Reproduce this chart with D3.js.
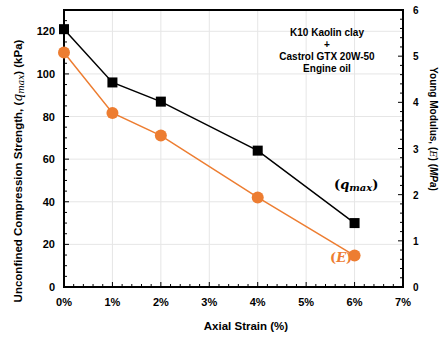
<!DOCTYPE html>
<html>
<head>
<meta charset="utf-8">
<script src="https://cdn.jsdelivr.net/npm/d3@7"></script>
<style>
  body { margin: 0; background: #fff; }
  svg text { font-family: "Liberation Sans", Arial, sans-serif; font-weight: bold; }
</style>
</head>
<body>
<div class="vis"></div>
<script>
(function() {
  'use strict';

  // axial strain (%)
  var strain = [0, 1, 2, 4, 6];
  // unconfined compression strength, kPa
  var qmax = [121, 96, 87, 64, 30];
  // Young modulus, MPa
  var youngE = [5.08, 3.77, 3.28, 1.94, 0.68];

  var xTicks = [0, 1, 2, 3, 4, 5, 6, 7];
  var yLeftTicks = [0, 20, 40, 60, 80, 100, 120];
  var yRightTicks = [0, 1, 2, 3, 4, 5, 6];
  var noteLines = ['K10 Kaolin clay', '+', 'Castrol GTX 20W-50', 'Engine oil'];

  var W = 444, H = 338,
    margin = {top: 10, right: 41, bottom: 51, left: 64},
    width = W - margin.left - margin.right,
    height = H - margin.top - margin.bottom;

  var serif = '"DejaVu Serif", serif';

  var svg = d3.select('.vis').append('svg')
      .attr('width', W)
      .attr('height', H);

  var g = svg.append('g')
      .attr('transform', 'translate(' + margin.left + ',' + margin.top + ')');

  var x = d3.scaleLinear().domain([0, 7]).range([0, width]);
  var yL = d3.scaleLinear().domain([0, 130]).range([height, 0]);
  var yR = d3.scaleLinear().domain([0, 6]).range([height, 0]);

  // grid
  g.append('g').selectAll('line').data(xTicks.slice(1, -1)).enter().append('line')
      .attr('x1', function(d) { return x(d); }).attr('x2', function(d) { return x(d); })
      .attr('y1', 0).attr('y2', height)
      .attr('stroke', '#e6e6e6').attr('stroke-width', 1);
  g.append('g').selectAll('line').data(yLeftTicks.slice(1)).enter().append('line')
      .attr('x1', 0).attr('x2', width)
      .attr('y1', function(d) { return yL(d); }).attr('y2', function(d) { return yL(d); })
      .attr('stroke', '#e6e6e6').attr('stroke-width', 1);

  // minor ticks
  var minorX = d3.range(0, 7.001, 0.2);
  var minorL = d3.range(0, 130.001, 5);
  var minorR = d3.range(0, 6.001, 0.2);
  var tk = g.append('g').attr('stroke', '#000').attr('stroke-width', 1);
  tk.selectAll('.mx').data(minorX).enter().append('line')
      .attr('x1', function(d) { return x(d); }).attr('x2', function(d) { return x(d); })
      .attr('y1', height).attr('y2', function(d) { return height - (Math.abs(d - Math.round(d)) < 1e-6 ? 5 : 3); });
  tk.selectAll('.ml').data(minorL).enter().append('line')
      .attr('y1', function(d) { return yL(d); }).attr('y2', function(d) { return yL(d); })
      .attr('x1', 0).attr('x2', function(d) { return d % 20 === 0 ? 5 : 3; });
  tk.selectAll('.mr').data(minorR).enter().append('line')
      .attr('y1', function(d) { return yR(d); }).attr('y2', function(d) { return yR(d); })
      .attr('x1', width).attr('x2', function(d) { return width - (Math.abs(d - Math.round(d)) < 1e-6 ? 5 : 3); });

  // frame
  g.append('rect').attr('width', width).attr('height', height)
      .attr('fill', 'none').attr('stroke', '#000').attr('stroke-width', 2);

  // tick labels
  g.append('g').selectAll('text').data(xTicks).enter().append('text')
      .attr('x', function(d) { return x(d); }).attr('y', height + 19)
      .attr('text-anchor', 'middle').attr('font-size', 11)
      .text(function(d) { return d + '%'; });
  g.append('g').selectAll('text').data(yLeftTicks).enter().append('text')
      .attr('x', -9).attr('y', function(d) { return yL(d) + 4; })
      .attr('text-anchor', 'end').attr('font-size', 11)
      .text(function(d) { return d; });
  g.append('g').selectAll('text').data(yRightTicks).enter().append('text')
      .attr('x', width + 10).attr('y', function(d) { return yR(d) + 4; })
      .attr('text-anchor', 'start').attr('font-size', 10)
      .text(function(d) { return d; });

  // axis titles
  svg.append('text')
      .attr('x', 246).attr('y', 330)
      .attr('text-anchor', 'middle').attr('font-size', 11.5)
      .text('Axial Strain (%)');

  var lt = svg.append('text')
      .attr('transform', 'translate(22,171) rotate(-90)')
      .attr('text-anchor', 'middle').attr('font-size', 11.5);
  lt.append('tspan').text('Unconfined Compression Strength, (');
  lt.append('tspan').style('font-family', serif).style('font-style', 'italic').style('font-weight', 'normal').attr('font-size', 12.5).text('q');
  lt.append('tspan').style('font-family', serif).style('font-style', 'italic').style('font-weight', 'normal').attr('font-size', 9).attr('dy', 2).text('max');
  lt.append('tspan').attr('dy', -2).text(') (kPa)');

  var rt = svg.append('text')
      .attr('transform', 'translate(430,129) rotate(90)')
      .attr('text-anchor', 'middle').attr('font-size', 10);
  rt.append('tspan').text('Young Modulus, (');
  rt.append('tspan').style('font-family', serif).style('font-style', 'italic').style('font-weight', 'normal').text('E');
  rt.append('tspan').text(') (');
  rt.append('tspan').style('font-style', 'italic').text('MPa');
  rt.append('tspan').text(')');

  // series
  var qData = strain.map(function(s, i) { return [s, qmax[i]]; });
  var eData = strain.map(function(s, i) { return [s, youngE[i]]; });
  var orange = '#ED7D31';

  g.append('path').datum(eData)
      .attr('fill', 'none').attr('stroke', orange).attr('stroke-width', 1.5)
      .attr('d', d3.line().x(function(d) { return x(d[0]); }).y(function(d) { return yR(d[1]); }));
  g.append('g').selectAll('circle').data(eData).enter().append('circle')
      .attr('cx', function(d) { return x(d[0]); }).attr('cy', function(d) { return yR(d[1]); })
      .attr('r', 6).attr('fill', orange);

  g.append('path').datum(qData)
      .attr('fill', 'none').attr('stroke', '#000').attr('stroke-width', 1.5)
      .attr('d', d3.line().x(function(d) { return x(d[0]); }).y(function(d) { return yL(d[1]); }));
  g.append('g').selectAll('rect').data(qData).enter().append('rect')
      .attr('x', function(d) { return x(d[0]) - 5; }).attr('y', function(d) { return yL(d[1]) - 5; })
      .attr('width', 10).attr('height', 10).attr('fill', '#000');

  // annotations
  svg.append('g').selectAll('text').data(noteLines).enter().append('text')
      .attr('x', 327).attr('y', function(d, i) { return 36 + i * 12; })
      .attr('text-anchor', 'middle').attr('font-size', 10)
      .text(function(d) { return d; });

  var qa = svg.append('text').attr('x', 334).attr('y', 189)
      .style('font-family', serif).attr('font-size', 13);
  qa.append('tspan').style('font-style', 'normal').text('(');
  qa.append('tspan').style('font-style', 'italic').text('q');
  qa.append('tspan').style('font-style', 'italic').attr('font-size', 10).attr('dy', 2).text('max');
  qa.append('tspan').attr('dy', -2).text(')');

  var ea = svg.append('text').attr('x', 330).attr('y', 262)
      .style('font-family', serif).attr('font-size', 13).attr('fill', orange);
  ea.append('tspan').text('(');
  ea.append('tspan').style('font-style', 'italic').text('E');
  ea.append('tspan').text(')');
}());
</script>
</body>
</html>
